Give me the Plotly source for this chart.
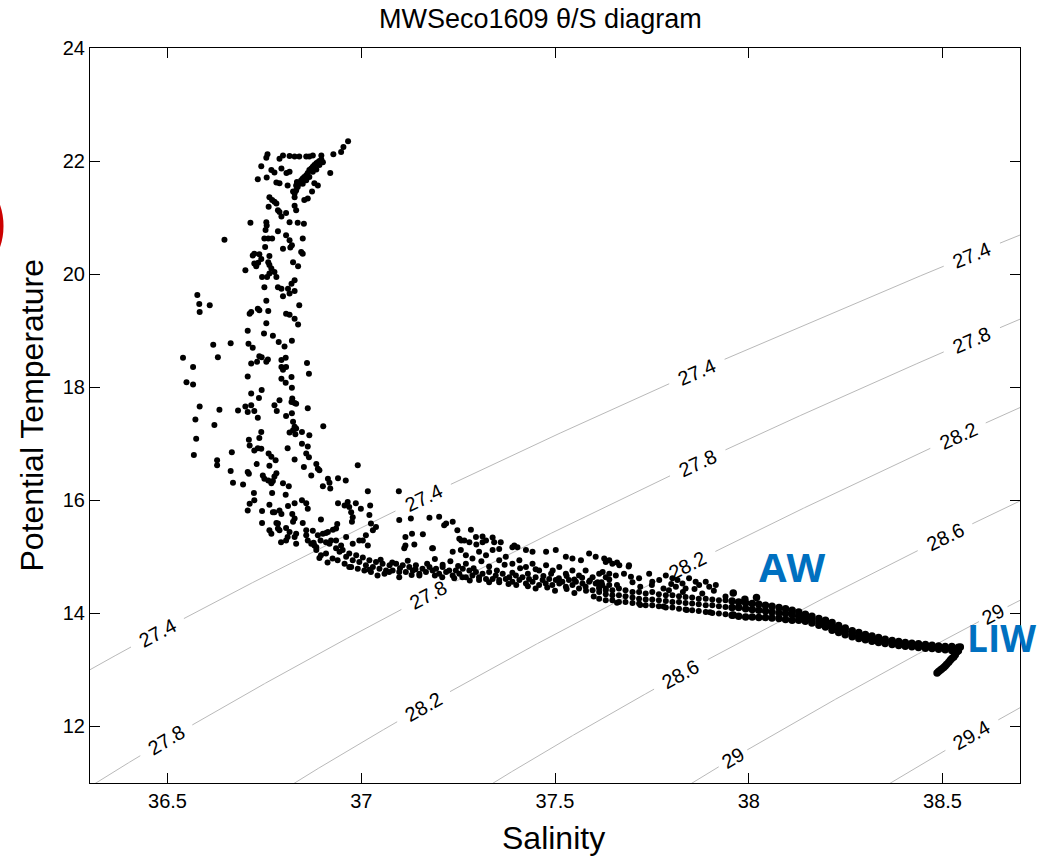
import numpy as np
import plotly.graph_objects as go

# ---------------- data (salinity, potential temperature) ----------------
upper_branch = [
    (36.966, 22.35), (36.954, 22.25), (36.948, 22.16), (36.928, 22.12), (36.920, 21.79),
    (36.897, 22.10), (36.875, 22.10), (36.866, 22.08), (36.858, 22.08), (36.840, 22.08),
    (36.828, 22.08), (36.815, 22.09), (36.798, 22.10), (36.789, 22.04), (36.758, 22.12),
    (36.755, 22.06), (36.742, 21.91), (36.768, 21.84), (36.776, 21.80), (36.733, 21.68),
    (36.756, 21.71), (36.794, 21.87), (36.807, 21.79), (36.815, 21.81), (36.789, 21.61),
    (36.781, 21.62), (36.810, 21.57),
    (36.828, 21.43), (36.832, 21.48), (36.836, 21.54), (36.840, 21.60), (36.845, 21.66),
    (36.849, 21.69), (36.853, 21.72), (36.858, 21.75), (36.862, 21.79), (36.866, 21.84),
    (36.871, 21.87), (36.875, 21.90), (36.879, 21.93), (36.884, 21.96), (36.888, 21.98),
    (36.892, 22.00), (36.897, 22.03), (36.901, 21.98), (36.832, 21.57), (36.849, 21.60),
    (36.858, 21.66), (36.866, 21.72), (36.875, 21.81), (36.884, 21.85), (36.892, 21.93),
    (36.834, 21.63), (36.824, 21.46), (36.828, 21.36), (36.879, 21.61), (36.888, 21.57),
    (36.873, 21.46), (36.862, 21.34), (36.853, 21.31), (36.828, 21.21), (36.832, 21.13),
    (36.763, 21.36), (36.770, 21.31), (36.776, 21.28), (36.781, 21.25), (36.761, 21.19),
    (36.785, 21.13), (36.789, 21.10), (36.794, 21.02), (36.806, 21.08), (36.815, 20.92),
    (36.714, 20.91), (36.755, 20.92), (36.756, 20.86), (36.753, 20.78), (36.785, 20.76),
    (36.836, 20.91), (36.852, 20.89), (36.647, 20.61), (36.750, 20.63), (36.760, 20.63),
    (36.770, 20.63), (36.806, 20.69), (36.815, 20.60), (36.849, 20.63), (36.752, 20.48),
    (36.798, 20.45), (36.817, 20.47), (36.821, 20.51), (36.845, 20.39), (36.849, 20.36),
    (36.720, 20.33), (36.724, 20.36), (36.737, 20.35), (36.742, 20.27), (36.763, 20.32),
    (36.701, 20.07), (36.724, 20.19), (36.734, 20.20), (36.729, 20.14), (36.760, 20.21),
    (36.763, 20.16), (36.768, 20.10), (36.776, 20.04), (36.824, 20.21), (36.837, 20.14),
    (36.744, 19.95), (36.757, 19.95), (36.763, 20.01), (36.781, 19.95), (36.828, 19.89),
    (36.820, 19.83), (36.750, 19.77), (36.785, 19.77), (36.794, 19.74), (36.811, 19.74),
    (36.828, 19.70), (36.798, 19.61), (36.815, 19.66), (36.577, 19.63), (36.582, 19.47),
    (36.583, 19.33), (36.609, 19.45), (36.755, 19.53), (36.712, 19.30), (36.716, 19.33),
    (36.733, 19.39), (36.737, 19.36), (36.760, 19.35), (36.806, 19.30), (36.815, 19.28),
    (36.828, 19.21), (36.840, 19.45), (36.755, 19.13), (36.837, 19.11),
]

middle_branch = [
    (36.707, 19.00), (36.749, 18.95), (36.772, 18.91), (36.787, 18.80), (36.802, 18.72),
    (36.821, 18.82), (36.618, 18.75), (36.663, 18.78), (36.709, 18.77), (36.720, 18.70),
    (36.540, 18.52), (36.630, 18.53), (36.737, 18.55), (36.743, 18.53), (36.731, 18.45),
    (36.755, 18.45), (36.759, 18.49), (36.716, 18.42), (36.794, 18.48), (36.805, 18.52),
    (36.794, 18.36), (36.806, 18.36), (36.798, 18.31), (36.860, 18.43), (36.865, 18.24),
    (36.566, 18.36), (36.549, 18.09), (36.566, 18.05), (36.707, 18.19), (36.794, 18.15),
    (36.805, 18.08), (36.820, 18.18), (36.821, 17.99), (36.716, 17.89), (36.743, 17.95),
    (36.736, 17.81), (36.789, 17.77), (36.776, 17.68), (36.782, 17.58), (36.822, 17.80),
    (36.828, 17.72), (36.820, 17.74), (36.832, 17.71), (36.821, 17.54), (36.806, 17.49),
    (36.862, 17.63), (36.583, 17.66), (36.634, 17.60), (36.682, 17.59), (36.701, 17.66),
    (36.707, 17.56), (36.716, 17.68), (36.724, 17.58), (36.733, 17.46), (36.572, 17.43),
    (36.621, 17.33), (36.824, 17.39), (36.828, 17.30), (36.832, 17.27), (36.824, 17.24),
    (36.815, 17.20), (36.830, 17.17), (36.847, 17.21), (36.866, 17.15), (36.902, 17.31),
    (36.742, 17.21), (36.737, 17.10), (36.710, 17.07), (36.712, 16.97), (36.724, 16.88),
    (36.733, 16.92), (36.742, 16.91), (36.810, 16.92), (36.847, 17.00), (36.862, 16.95),
    (36.574, 17.09), (36.568, 16.80), (36.666, 16.85), (36.761, 16.83), (36.768, 16.77),
    (36.779, 16.71), (36.763, 16.61), (36.858, 16.83), (36.865, 16.76), (36.828, 16.72),
    (36.852, 16.59), (36.730, 16.64), (36.628, 16.71), (36.628, 16.62), (36.884, 16.64),
    (36.888, 16.56), (36.892, 16.53), (36.991, 16.62), (36.663, 16.52), (36.669, 16.31),
    (36.695, 16.28), (36.707, 16.50), (36.710, 16.47), (36.746, 16.44), (36.750, 16.38),
    (36.760, 16.35), (36.768, 16.30), (36.772, 16.34), (36.781, 16.48), (36.776, 16.42),
    (36.871, 16.44), (36.914, 16.38), (36.918, 16.31), (36.920, 16.21), (36.940, 16.39),
    (36.960, 16.35), (36.901, 16.25), (36.798, 16.30), (36.813, 16.25), (36.723, 16.13),
    (36.770, 16.13), (36.805, 16.10), (37.017, 16.16), (36.712, 15.94), (36.724, 16.00),
    (36.707, 15.82), (36.763, 15.92), (36.776, 15.79), (36.789, 15.82), (36.794, 15.76),
    (36.811, 15.90), (36.822, 15.76), (36.828, 15.68), (36.824, 15.62), (36.828, 15.95),
    (36.847, 16.00), (36.858, 15.95), (36.862, 15.85), (36.744, 15.81), (36.772, 15.79),
    (36.744, 15.60), (36.781, 15.60), (36.785, 15.59), (36.789, 15.47), (36.785, 15.50),
    (36.806, 15.51), (36.815, 15.44), (36.828, 15.35), (36.832, 15.41), (36.806, 15.29),
    (36.849, 15.60), (36.858, 15.47), (36.858, 15.38), (36.875, 15.46), (36.877, 15.25),
    (36.768, 15.41), (36.763, 15.47), (36.896, 15.66), (36.888, 15.38), (36.901, 15.41),
    (36.909, 15.42), (36.914, 15.44), (36.927, 15.48), (36.935, 15.50), (36.938, 15.58),
    (36.940, 15.95), (36.957, 15.91), (36.965, 15.97), (36.969, 15.88), (36.974, 15.79),
    (36.978, 15.70), (36.976, 15.62), (36.986, 15.95), (36.999, 15.85), (37.023, 15.91),
    (37.021, 15.74), (37.025, 15.59), (37.030, 15.47), (37.012, 15.38), (36.995, 15.29),
    (36.895, 15.29), (36.909, 15.26), (36.922, 15.29), (36.871, 15.23), (36.884, 15.17),
    (36.793, 15.26), (36.810, 15.35), (36.832, 15.23), (36.862, 15.29), (36.879, 15.20),
    (36.935, 15.29), (36.948, 15.20), (36.961, 15.35), (36.978, 15.23), (37.004, 15.29),
    (37.017, 15.20), (37.038, 15.53),
]

scatter_band = [
    (37.097, 16.16), (37.098, 15.65), (37.128, 15.68), (37.176, 15.69), (37.201, 15.71),
    (37.219, 15.59), (37.236, 15.62), (37.248, 15.47), (37.283, 15.48), (37.114, 15.35),
    (37.131, 15.41), (37.159, 15.40), (37.114, 15.20), (37.137, 15.22), (37.185, 15.15),
    (37.253, 15.32), (37.266, 15.29), (37.279, 15.26), (37.296, 15.35), (37.313, 15.26),
    (37.322, 15.29), (37.343, 15.26), (37.360, 15.26), (37.395, 15.20), (37.403, 15.17),
    (37.425, 15.12), (37.442, 15.09), (37.477, 15.09), (37.502, 15.12), (37.528, 15.00),
    (37.545, 14.97), (37.567, 14.94), (37.588, 15.06), (37.605, 15.00), (37.627, 14.97),
    (37.640, 14.94), (37.660, 14.90), (37.690, 14.83), (37.214, 15.56), (37.313, 15.36),
    (37.339, 15.34), (37.258, 15.29), (37.183, 15.15), (37.111, 15.15), (37.297, 15.22),
    (37.356, 15.14), (37.390, 15.17),
    (37.236, 15.09), (37.257, 15.12), (37.270, 15.03), (37.287, 14.97), (37.304, 15.09),
    (37.322, 15.03), (37.339, 15.12), (37.356, 14.94), (37.373, 15.00), (37.390, 14.88),
    (37.408, 14.94), (37.425, 14.82), (37.442, 14.88), (37.459, 14.76), (37.477, 14.85),
    (37.494, 14.76), (37.511, 14.82), (37.528, 14.70), (37.545, 14.76), (37.562, 14.67),
    (37.579, 14.76), (37.597, 14.64), (37.614, 14.70), (37.631, 14.64),
    (37.631, 14.91), (37.648, 14.88), (37.666, 14.85), (37.691, 14.85), (37.623, 14.73),
    (37.640, 14.70), (37.657, 14.67), (37.678, 14.70), (37.696, 14.65), (37.717, 14.62),
    (37.743, 14.70), (37.751, 14.56), (37.769, 14.59), (37.786, 14.67), (37.803, 14.62),
    (37.816, 14.59), (37.829, 14.53), (37.846, 14.62), (37.863, 14.56), (37.872, 14.50),
    (37.889, 14.56), (37.898, 14.47), (37.915, 14.50), (37.812, 14.47), (37.837, 14.44),
    (37.794, 14.41),
    (37.62, 14.55), (37.64, 14.60), (37.66, 14.50), (37.70, 14.55), (37.72, 14.47),
    (37.75, 14.50), (37.78, 14.44), (37.80, 14.52), (37.83, 14.38), (37.86, 14.43),
    (37.88, 14.35), (37.91, 14.40), (37.94, 14.30), (37.96, 14.36), (37.99, 14.25),
    (38.02, 14.28), (37.66, 14.19), (37.72, 14.15), (37.78, 14.12), (37.84, 14.06),
    (37.90, 14.02), (37.96, 13.97),
]

lower_band = [
    (36.884, 15.12), (36.896, 15.03), (36.909, 15.06), (36.926, 14.97), (36.939, 14.94),
    (36.957, 14.88), (36.974, 14.82), (36.991, 14.79), (37.008, 14.76), (37.025, 14.73),
    (37.042, 14.67),
    (36.944, 15.09), (36.961, 15.00), (36.978, 14.94), (36.995, 14.91), (37.012, 14.85),
    (37.030, 14.82), (37.047, 14.79), (37.064, 14.76), (37.081, 14.76), (37.098, 14.73),
    (37.115, 14.73), (37.133, 14.76), (37.150, 14.70), (37.167, 14.73), (37.184, 14.76),
    (37.201, 14.70), (37.219, 14.73), (37.236, 14.67), (37.253, 14.70), (37.270, 14.64),
    (37.287, 14.67), (37.304, 14.64), (37.322, 14.61), (37.339, 14.61), (37.356, 14.59),
    (37.373, 14.61), (37.390, 14.56), (37.408, 14.59), (37.425, 14.53), (37.442, 14.56),
    (37.459, 14.50), (37.476, 14.53), (37.493, 14.50), (37.511, 14.53), (37.528, 14.47),
    (37.545, 14.50), (37.562, 14.44), (37.579, 14.47), (37.597, 14.41), (37.614, 14.44),
    (37.631, 14.41),
    (36.918, 15.23), (36.935, 15.15), (36.952, 15.12), (36.969, 15.06), (36.987, 15.03),
    (37.004, 14.99), (37.021, 14.94), (37.038, 14.91), (37.055, 14.88), (37.073, 14.85),
    (37.090, 14.88), (37.107, 14.85), (37.124, 14.82), (37.141, 14.85), (37.158, 14.79),
    (37.176, 14.82), (37.193, 14.79), (37.210, 14.82), (37.227, 14.76), (37.244, 14.76),
    (37.262, 14.79), (37.279, 14.76), (37.296, 14.73), (37.313, 14.70), (37.330, 14.73),
    (37.347, 14.67), (37.365, 14.70), (37.382, 14.64), (37.399, 14.67), (37.416, 14.64),
    (37.433, 14.61), (37.450, 14.64), (37.468, 14.59), (37.485, 14.61), (37.502, 14.59),
    (37.519, 14.56), (37.536, 14.59), (37.554, 14.56), (37.571, 14.53), (37.588, 14.56),
    (37.605, 14.53), (37.622, 14.50), (37.640, 14.50),
    (36.892, 14.98), (36.913, 14.90), (36.969, 14.82), (37.021, 14.77), (37.072, 14.73),
    (37.098, 14.64), (37.150, 14.67), (37.209, 14.64), (37.261, 14.64), (37.304, 14.59),
    (37.356, 14.55), (37.400, 14.50), (37.450, 14.44), (37.500, 14.40), (37.550, 14.36),
    (37.600, 14.30),
    (37.05, 14.95), (37.08, 14.90), (37.10, 14.80), (37.12, 14.93), (37.14, 14.78),
    (37.17, 14.88), (37.19, 14.96), (37.21, 14.86), (37.23, 14.92), (37.25, 14.84),
    (37.27, 14.88), (37.29, 14.80), (37.31, 14.92), (37.33, 14.83), (37.35, 14.76),
    (37.37, 14.86), (37.39, 14.72), (37.41, 14.80), (37.43, 14.70), (37.45, 14.78),
    (37.47, 14.66), (37.49, 14.70), (37.51, 14.62), (37.53, 14.66), (37.55, 14.60),
    (37.57, 14.63), (37.59, 14.58), (37.61, 14.55), (37.06, 14.70), (37.13, 14.68),
    (37.19, 14.67), (37.24, 14.62), (37.28, 14.58), (37.33, 14.55), (37.38, 14.52),
    (37.43, 14.48), (37.48, 14.46), (37.53, 14.43), (37.58, 14.40),
]

# thick tail towards the LIW core: upper edge, middle and lower edge of the band
tail_sal = [37.614, 37.631, 37.648, 37.665, 37.682, 37.700, 37.717, 37.734, 37.751, 37.768,
            37.786, 37.803, 37.820, 37.837, 37.854, 37.871, 37.889, 37.906, 37.923, 37.940,
            37.957, 37.974, 37.992, 38.009, 38.026, 38.043, 38.060, 38.078, 38.095, 38.112,
            38.129, 38.146, 38.163, 38.181, 38.198, 38.215, 38.232, 38.249, 38.267, 38.284,
            38.301, 38.318, 38.335, 38.352, 38.370, 38.387, 38.404, 38.421, 38.438, 38.456,
            38.473, 38.490, 38.507, 38.524, 38.541]
tail_temp_top = [14.468, 14.438, 14.409, 14.438, 14.409, 14.379, 14.379, 14.350, 14.379, 14.338,
                 14.320, 14.320, 14.303, 14.291, 14.279, 14.261, 14.261, 14.244, 14.232, 14.232,
                 14.220, 14.202, 14.185, 14.173, 14.161, 14.143, 14.126, 14.102, 14.084, 14.055,
                 14.026, 13.984, 13.949, 13.908, 13.878, 13.839, 13.787, 13.742, 13.691, 13.661,
                 13.626, 13.602, 13.573, 13.543, 13.520, 13.502, 13.484, 13.473, 13.461, 13.449,
                 13.437, 13.425, 13.414, 13.414, 13.400]
tail_temp_mid = [14.379, 14.338, 14.320, 14.320, 14.303, 14.279, 14.261, 14.244, 14.244, 14.232,
                 14.220, 14.202, 14.202, 14.185, 14.173, 14.161, 14.143, 14.143, 14.126, 14.114,
                 14.102, 14.102, 14.084, 14.067, 14.055, 14.043, 14.026, 14.008, 13.996, 13.978,
                 13.949, 13.919, 13.890, 13.849, 13.819, 13.774, 13.728, 13.683, 13.638, 13.602,
                 13.573, 13.549, 13.526, 13.502, 13.484, 13.467, 13.449, 13.437, 13.425, 13.414,
                 13.402, 13.396, 13.384, 13.378, 13.370]
tail_temp_bot = [14.261, 14.232, 14.232, 14.202, 14.202, 14.185, 14.173, 14.143, 14.143, 14.126,
                 14.102, 14.102, 14.084, 14.067, 14.055, 14.043, 14.026, 14.008, 13.996, 13.984,
                 13.967, 13.949, 13.937, 13.937, 13.925, 13.925, 13.919, 13.908, 13.890, 13.878,
                 13.878, 13.860, 13.831, 13.790, 13.760, 13.703, 13.664, 13.624, 13.585, 13.555,
                 13.532, 13.508, 13.484, 13.467, 13.449, 13.431, 13.420, 13.408, 13.396, 13.384,
                 13.378, 13.366, 13.355, 13.343, 13.340]
hook_sal = [38.546, 38.541, 38.537, 38.533, 38.529, 38.524, 38.520, 38.516, 38.511, 38.507,
            38.503, 38.498, 38.494, 38.490, 38.486]
hook_temp = [13.406, 13.360, 13.318, 13.270, 13.229, 13.200, 13.171, 13.135, 13.100, 13.070,
             13.041, 13.017, 12.994, 12.970, 12.947]

# isopycnal levels and the salinities at which their labels sit
sigma_levels = [27.4, 27.8, 28.2, 28.6, 29.0, 29.4]
level_text = ["27.4", "27.8", "28.2", "28.6", "29", "29.4"]
label_sal = [[38.576, 37.866, 37.160, 36.474],
             [38.576, 37.869, 37.173, 36.497],
             [38.540, 37.843, 37.160],
             [38.507, 37.825],
             [38.631, 37.959],
             [38.575]]

x_ticks = [36.5, 37, 37.5, 38, 38.5]
x_ticktext = ["36.5", "37", "37.5", "38", "38.5"]
y_ticks = [12, 14, 16, 18, 20, 22, 24]

# ---------------- figure geometry ----------------
W, H = 1039, 859
ML, MR, MT, MB = 90, 19, 48, 76
XR = [36.3, 38.7]
YR = [11, 24]
PW, PH = W - ML - MR, H - MT - MB
KX = PW / (XR[1] - XR[0])
KY = PH / (YR[1] - YR[0])
FONT = "Liberation Sans, Arial, sans-serif"


def sigma0(S, T):
    """UNESCO EOS-80 potential density anomaly at p = 0."""
    rw = (999.842594 + 6.793952e-2 * T - 9.095290e-3 * T ** 2 + 1.001685e-4 * T ** 3
          - 1.120083e-6 * T ** 4 + 6.536332e-9 * T ** 5)
    A = 8.24493e-1 - 4.0899e-3 * T + 7.6438e-5 * T ** 2 - 8.2467e-7 * T ** 3 + 5.3875e-9 * T ** 4
    B = -5.72466e-3 + 1.0227e-4 * T - 1.6546e-6 * T ** 2
    C = 4.8314e-4
    return rw + A * S + B * S ** 1.5 + C * S ** 2 - 1000.0


def theta_on(S, level):
    S = np.asarray(S, dtype=float)
    lo = np.full_like(S, 0.0)
    hi = np.full_like(S, 40.0)
    for _ in range(70):
        mid = 0.5 * (lo + hi)
        f = sigma0(S, mid) - level
        lo = np.where(f > 0, mid, lo)
        hi = np.where(f > 0, hi, mid)
    return 0.5 * (lo + hi)


fig = go.Figure()
annotations = []

s_grid = np.linspace(36.2, 38.8, 1201)
for lev, txt, sals in zip(sigma_levels, level_text, label_sal):
    t_grid = theta_on(s_grid, lev)
    px = (s_grid - XR[0]) * KX
    py = (t_grid - YR[0]) * KY
    mask = np.zeros_like(s_grid, dtype=bool)
    half = 7.0 * len(txt) + 2
    for sl in sals:
        tl = float(theta_on(np.array([sl]), lev)[0])
        tl2 = float(theta_on(np.array([sl + 0.002]), lev)[0])
        cx, cy = (sl - XR[0]) * KX, (tl - YR[0]) * KY
        mask |= np.hypot(px - cx, py - cy) < half
        ang = -np.degrees(np.arctan2((tl2 - tl) * KY, 0.002 * KX))
        annotations.append(dict(x=sl, y=tl, xref="x", yref="y", text=txt, showarrow=False,
                                textangle=ang, xanchor="center", yanchor="middle",
                                font=dict(size=20, color="black", family=FONT)))
    t_line = [None if m else float(v) for m, v in zip(mask, t_grid)]
    fig.add_trace(go.Scatter(x=s_grid.tolist(), y=t_line, mode="lines",
                             line=dict(color="#b9b9b9", width=1), connectgaps=False,
                             hoverinfo="skip", showlegend=False))

pts_s, pts_t = [], []
for grp in (upper_branch, middle_branch, scatter_band, lower_band):
    for s, t in grp:
        pts_s.append(s)
        pts_t.append(t)
for row in (tail_temp_top, tail_temp_mid, tail_temp_bot):
    pts_s.extend(tail_sal)
    pts_t.extend(row)
pts_s.extend(hook_sal)
pts_t.extend(hook_temp)

# where the casts overlap into a solid ribbon the dots merge: draw them a bit larger there
sizes = [7.5 if s >= 37.95 else 6 for s in pts_s]

fig.add_trace(go.Scatter(x=pts_s, y=pts_t, mode="markers",
                         marker=dict(color="black", size=sizes, opacity=1, line=dict(width=0)),
                         showlegend=False, hoverinfo="skip"))

# water-mass labels
annotations.append(dict(x=38.114, y=14.83, xref="x", yref="y", text="<b>AW</b>", showarrow=False,
                        xanchor="center", yanchor="middle",
                        font=dict(size=40, color="#0070C0", family="Open Sans, sans-serif")))
annotations.append(dict(x=(1038 - ML) / PW, y=13.58, xref="paper", yref="y", text="<b>LIW</b>",
                        showarrow=False, xanchor="right", yanchor="middle",
                        font=dict(size=37, color="#0070C0", family="Open Sans, sans-serif")))

# titles
annotations.append(dict(x=(540 - ML) / PW, y=(PH + MT - 19) / PH, xref="paper", yref="paper",
                        text="MWSeco1609 θ/S diagram", showarrow=False, xanchor="center",
                        yanchor="middle", font=dict(size=27, color="black", family=FONT)))
annotations.append(dict(x=(553 - ML) / PW, y=-(838 - MT - PH) / PH, xref="paper", yref="paper",
                        text="Salinity", showarrow=False, xanchor="center", yanchor="middle",
                        font=dict(size=32, color="black", family=FONT)))
annotations.append(dict(x=(31 - ML) / PW, y=0.5, xref="paper", yref="paper",
                        text="Potential Temperature", showarrow=False, xanchor="center",
                        yanchor="middle", textangle=-90,
                        font=dict(size=32, color="black", family=FONT)))

axis_common = dict(showgrid=False, zeroline=False, showline=True, linecolor="black", linewidth=1,
                   mirror="ticks", ticks="inside", ticklen=10, tickwidth=1, tickcolor="black",
                   tickfont=dict(size=20, color="black", family=FONT))

fig.update_layout(
    width=W, height=H,
    margin=dict(l=ML, r=MR, t=MT, b=MB),
    plot_bgcolor="white", paper_bgcolor="white",
    showlegend=False,
    hovermode=False,
    xaxis=dict(range=XR, tickvals=x_ticks, ticktext=x_ticktext, **axis_common),
    yaxis=dict(range=YR, tickvals=y_ticks, ticktext=[str(v) for v in y_ticks], **axis_common),
    annotations=annotations,
    shapes=[dict(type="circle", xref="paper", yref="paper",
                 x0=(-120.5 - ML) / PW, x1=(0.5 - ML) / PW,
                 y0=(MT + PH - 286.5) / PH, y1=(MT + PH - 165.5) / PH,
                 line=dict(color="#cc0000", width=6), layer="above")],
)

fig.write_html("out.html", config={"displayModeBar": False, "staticPlot": True},
               post_script="document.body.style.margin='0';document.body.style.overflow='hidden';")
